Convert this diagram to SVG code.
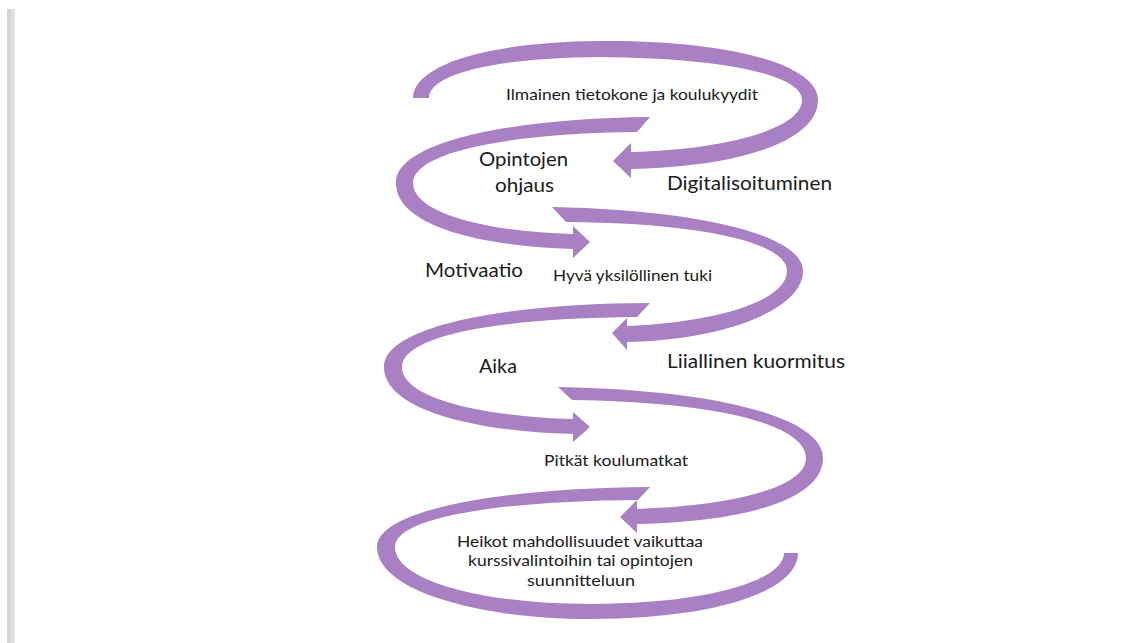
<svg xmlns="http://www.w3.org/2000/svg" width="1130" height="643" viewBox="0 0 1130 643">
<defs>
<linearGradient id="bar" x1="0" y1="0" x2="1" y2="0">
<stop offset="0" stop-color="#d2d2d2"/>
<stop offset="0.5" stop-color="#dcdcdc"/>
<stop offset="1" stop-color="#e6e6e6"/>
</linearGradient>
<style>
.arr{fill:#a880c3;stroke:none}
.t{font-family:Lato,"Liberation Sans",sans-serif;fill:#1a1a1a}
.s{font-size:15px}
.l{font-size:19px}
</style>
</defs>
<rect x="0" y="0" width="1130" height="643" fill="#ffffff"/>
<rect x="7" y="9" width="8" height="634" fill="url(#bar)"/>
<g id="connectors">
<path class="arr" d="M413,98 C413,67 480,42 600,41 C731,40 818,65 818,100 C818,141 740,167 631,169 L631,178 L613,161 L631,143 L631,152 C720,150 802,130 802,100 C802,74 720,58 600,57 C490,58 429,75 429,98 Z"/>
<path class="arr" d="M650,117 C520,118 396,140 396,183 C396,226 480,246 573,249 L573,258 L590,242 L573,226 L573,234 C490,232 413,214 413,183 C413,152 510,133 637,132 Z"/>
<path class="arr" d="M552,207 C700,210 803,235 803,271 C803,311 720,340 627,342 L627,350 L612,333 L627,318 L627,326 C720,322 787,300 787,271 C787,242 700,223 566,222 Z"/>
<path class="arr" d="M650,303 C510,303 384,325 384,367 C384,411 480,432 573,434 L573,442 L590,427 L573,412 L573,419 C490,417 402,400 402,367 C402,335 500,318 637,317 Z"/>
<path class="arr" d="M558,387 C720,390 823,418 823,458 C823,501 740,522 637,524 L637,533 L620,517 L637,500 L637,509 C730,506 806,488 806,458 C806,425 720,402 572,400 Z"/>
<path class="arr" d="M650,487 C500,488 377,510 377,547 C377,591 480,619 590,619 C720,619 798,590 798,553 L784,553 C784,580 710,604 590,604 C480,604 395,580 395,547 C395,517 500,501 638,500 Z"/>
</g>
<g id="n1"><text class="t s" x="506" y="100" textLength="252" lengthAdjust="spacingAndGlyphs">Ilmainen tietokone ja koulukyydit</text></g>
<g id="n2"><text class="t l" x="479" y="166" textLength="89" lengthAdjust="spacingAndGlyphs">Opintojen</text><text class="t l" x="495" y="192" textLength="59" lengthAdjust="spacingAndGlyphs">ohjaus</text></g>
<g id="n3"><text class="t l" x="667" y="190" textLength="165" lengthAdjust="spacingAndGlyphs">Digitalisoituminen</text></g>
<g id="n4"><text class="t l" x="425" y="277" textLength="98" lengthAdjust="spacingAndGlyphs">Motivaatio</text></g>
<g id="n5"><text class="t s" x="553" y="281" textLength="159" lengthAdjust="spacingAndGlyphs">Hyvä yksilöllinen tuki</text></g>
<g id="n6"><text class="t l" x="479" y="373" textLength="38" lengthAdjust="spacingAndGlyphs">Aika</text></g>
<g id="n7"><text class="t l" x="667" y="368" textLength="178" lengthAdjust="spacingAndGlyphs">Liiallinen kuormitus</text></g>
<g id="n8"><text class="t s" x="544" y="466" textLength="144" lengthAdjust="spacingAndGlyphs">Pitkät koulumatkat</text></g>
<g id="n9"><text class="t s"><tspan x="457" y="547" textLength="246" lengthAdjust="spacingAndGlyphs">Heikot mahdollisuudet vaikuttaa</tspan><tspan x="468" y="566" textLength="225" lengthAdjust="spacingAndGlyphs">kurssivalintoihin tai opintojen</tspan><tspan x="527" y="586" textLength="108" lengthAdjust="spacingAndGlyphs">suunnitteluun</tspan></text></g>
</svg>
